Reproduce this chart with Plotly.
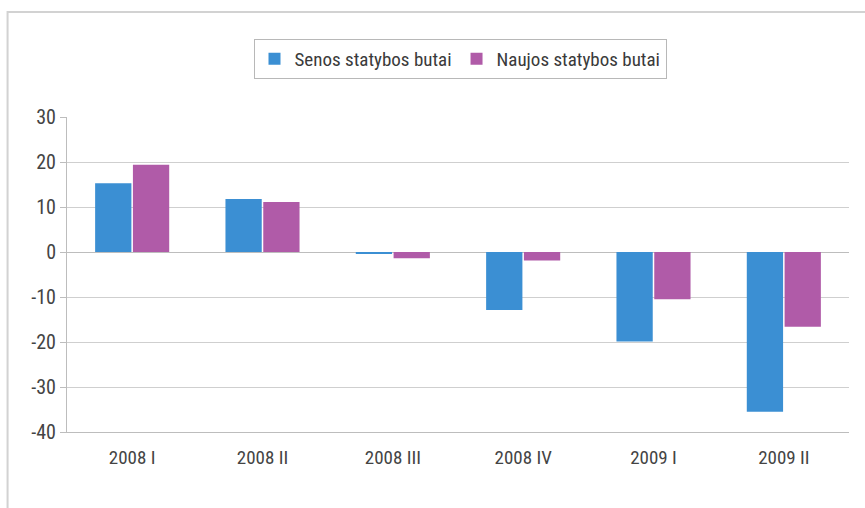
import plotly.graph_objects as go

categories = ["2008 I", "2008 II", "2008 III", "2008 IV", "2009 I", "2009 II"]
senos = [15.3, 11.8, -0.3, -12.9, -19.9, -35.5]
naujos = [19.4, 11.1, -1.4, -1.9, -10.5, -16.6]
yticks = [30, 20, 10, 0, -10, -20, -30, -40]
yticklabels = ["30", "20", "10", "0", "-10", "-20", "-30", "-40"]

FONT = "Liberation Sans Narrow, Roboto Condensed, Arial Narrow, sans-serif"

fig = go.Figure()
fig.add_trace(go.Bar(name="Senos statybos butai", x=categories, y=senos,
                     marker=dict(color="#3b8fd3", line=dict(width=0))))
fig.add_trace(go.Bar(name="Naujos statybos butai", x=categories, y=naujos,
                     marker=dict(color="#b05ba8", line=dict(width=0))))

fig.update_layout(
    width=865, height=508,
    margin=dict(l=67, r=16, t=117, b=76, autoexpand=False),
    paper_bgcolor="white", plot_bgcolor="white",
    barmode="group", bargap=0.42, bargroupgap=0.04,
    font=dict(family=FONT, color="#444444", size=19),
    showlegend=True,
    legend=dict(orientation="h", x=460 / 865, xanchor="center", xref="container",
                y=1 - 39 / 508, yanchor="top", yref="container",
                bordercolor="#b8b8b8", borderwidth=1, font=dict(size=19, color="#3a3a3a"),
                itemwidth=30, traceorder="normal", tracegroupgap=0),
    xaxis=dict(showgrid=False, showline=True, linecolor="#bdbdbd", linewidth=1,
               ticks="", ticklabelstandoff=8, tickfont=dict(size=19, color="#444444")),
    yaxis=dict(range=[-40, 30], tickvals=yticks, ticktext=yticklabels,
               showgrid=True, gridcolor="#cfcfcf",
               gridwidth=1, zeroline=True, zerolinecolor="#bdbdbd", zerolinewidth=1,
               showline=True, linecolor="#bdbdbd", linewidth=1,
               ticks="outside", ticklen=6, tickcolor="#bdbdbd",
               tickfont=dict(size=20, color="#444444")),
)
# outer frame around the chart box
fig.add_shape(type="rect", xref="paper", yref="paper",
              x0=-0.076, x1=1.05, y0=-0.35, y1=1.333,
              line=dict(color="#d2d2d2", width=2), fillcolor="rgba(0,0,0,0)", layer="below")

fig.write_html("out.html")
